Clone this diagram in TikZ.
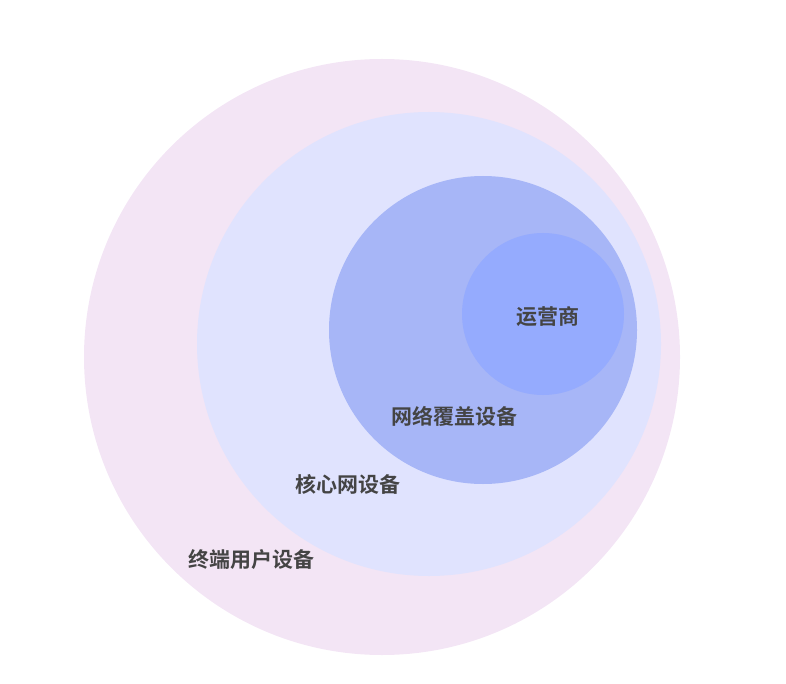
\documentclass[tikz,border=0pt]{standalone}
\usepackage{fontspec}
\newfontfamily\cjk{Noto Sans CJK SC}[BoldFont={* Bold}]
\definecolor{c1}{HTML}{F3E5F5}
\definecolor{c2}{HTML}{E0E3FE}
\definecolor{c3}{HTML}{A7B6F7}
\definecolor{c4}{HTML}{95ABFE}
\definecolor{txt}{HTML}{444444}
\tikzset{
  ring/.style={circle, draw=none, inner sep=0pt, minimum size=#1},
  lbl/.style={font=\cjk\bfseries\fontsize{21}{25}\selectfont, text=txt, inner sep=0pt, anchor=center}
}
\begin{document}
\begin{tikzpicture}[x=1pt,y=-1pt]
\useasboundingbox (0,0) rectangle (786,684);
\node[ring=596pt, fill=c1] (outer) at (382,357) {};
\node[ring=464pt, fill=c2] (core) at (429,344) {};
\node[ring=308pt, fill=c3] (cover) at (483,330) {};
\node[ring=162pt, fill=c4] (op) at (543,314) {};
\node[lbl] (l4) at (548,317) {运营商};
\node[lbl] (l3) at (454,416) {网络覆盖设备};
\node[lbl] (l2) at (348,484) {核心网设备};
\node[lbl] (l1) at (251,560) {终端用户设备};
\end{tikzpicture}
\end{document}
